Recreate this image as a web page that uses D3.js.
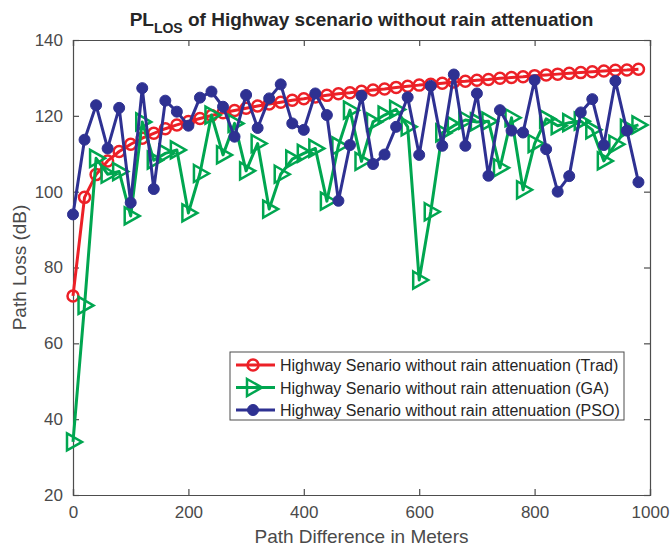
<!DOCTYPE html>
<html>
<head>
<meta charset="utf-8">
<script src="https://cdn.jsdelivr.net/npm/d3@7"></script>
<style>
  body { margin: 0; background: #fff; }
  svg { font-family: 'Liberation Sans', Arial, sans-serif; }
  .axis-title { fill: #4a4a4a; font-size: 19px; }
  .legend-text { fill: #262626; font-size: 16px; }
</style>
</head>
<body>
<svg id="chart"></svg>
<script>
// path difference in meters
const distances = [0, 20, 40, 60, 80, 100, 120, 140, 160, 180, 200, 220, 240, 260, 280, 300, 320, 340, 360, 380,
  400, 420, 440, 460, 480, 500, 520, 540, 560, 580, 600, 620, 640, 660, 680, 700, 720, 740, 760, 780,
  800, 820, 840, 860, 880, 900, 920, 940, 960, 980];

// path loss (dB) for each method
const tradLoss = [72.5, 98.5, 104.5, 108.1, 110.6, 112.5, 114.1, 115.4, 116.6, 117.6, 118.5, 119.3, 120.1, 120.8, 121.4,
  122.0, 122.6, 123.1, 123.6, 124.1, 124.5, 125.0, 125.4, 125.8, 126.1, 126.5, 126.8, 127.1, 127.5, 127.8,
  128.1, 128.3, 128.6, 128.9, 129.1, 129.4, 129.6, 129.9, 130.1, 130.3, 130.6, 130.8, 131.0, 131.2, 131.4,
  131.6, 131.8, 132.0, 132.1, 132.3];
const gaLoss = [34, 70, 108.8, 104.6, 105.3, 93.6, 118.4, 108.3, 110.1, 111.0, 94.4, 104.8, 120.2, 109.7, 118.0,
  105.5, 112.7, 95.4, 104.6, 108.6, 110.1, 111.4, 97.5, 112.1, 121.5, 108.0, 118.4, 120.2, 121.7, 117.1,
  76.7, 94.7, 115.5, 117.4, 118.9, 118.4, 118.6, 106.3, 119.5, 100.5, 112.7, 119.2, 117.4, 118.2, 118.6,
  116.3, 108.1, 112.5, 116.7, 117.6];
const psoLoss = [94.0, 113.7, 122.8, 111.4, 122.1, 97.1, 127.3, 100.7, 124.0, 121.1, 117.4, 124.8, 126.4, 122.4, 114.5,
  125.5, 116.8, 124.6, 128.3, 118.0, 116.3, 125.9, 120.2, 97.6, 112.3, 125.3, 107.3, 109.8, 117.1, 124.9,
  109.7, 127.9, 112.1, 130.9, 112.1, 125.9, 104.2, 121.5, 116.1, 115.6, 129.4, 111.2, 100.0, 104.1, 120.9,
  124.4, 112.3, 129.2, 116.1, 102.5];

const seriesNames = ['Highway Senario without rain attenuation (Trad)',
  'Highway Senario without rain attenuation (GA)',
  'Highway Senario without rain attenuation (PSO)'];

const xTicks = [0, 200, 400, 600, 800, 1000];
const yTicks = [20, 40, 60, 80, 100, 120, 140];

class LossChart {

  constructor(_config) {
    this.config = {
      parentElement: _config.parentElement,
      containerWidth: 670,
      containerHeight: 546,
      margin: {top: 40, right: 20, bottom: 51, left: 73}
    }
    this.series = [
      {name: seriesNames[0], values: tradLoss, color: '#ec2027', marker: 'circle'},
      {name: seriesNames[1], values: gaLoss, color: '#00a650', marker: 'triangle'},
      {name: seriesNames[2], values: psoLoss, color: '#2e3192', marker: 'dot'}
    ];
    this.initVis();
  }

  initVis() {
    let vis = this;

    vis.svg = d3.select(vis.config.parentElement)
        .attr('width', vis.config.containerWidth)
        .attr('height', vis.config.containerHeight);

    vis.chart = vis.svg.append('g')
        .attr('transform', `translate(${vis.config.margin.left},${vis.config.margin.top})`);

    vis.width = vis.config.containerWidth - vis.config.margin.left - vis.config.margin.right;
    vis.height = vis.config.containerHeight - vis.config.margin.top - vis.config.margin.bottom;

    vis.xScale = d3.scaleLinear().domain([0, 1000]).range([0, vis.width]);
    vis.yScale = d3.scaleLinear().domain([20, 140]).range([vis.height, 0]);

    // matlab style: ticks point inward, mirrored on top/right
    vis.xAxis = d3.axisBottom(vis.xScale).tickValues(xTicks).tickFormat(d3.format('d')).tickSize(-6).tickPadding(11);
    vis.yAxis = d3.axisLeft(vis.yScale).tickValues(yTicks).tickSize(-6).tickPadding(10);
    vis.xAxisTop = d3.axisTop(vis.xScale).tickValues(xTicks).tickSize(-6).tickFormat('');
    vis.yAxisRight = d3.axisRight(vis.yScale).tickValues(yTicks).tickSize(-6).tickFormat('');

    vis.renderVis();
  }

  renderVis() {
    let vis = this;

    const axisColor = '#4d4d4d';
    const styleAxis = g => {
      g.select('.domain').attr('stroke', axisColor).attr('stroke-width', 1.2);
      g.selectAll('.tick line').attr('stroke', axisColor).attr('stroke-width', 1.2);
    };

    vis.chart.append('g').attr('transform', `translate(0,${vis.height})`).call(vis.xAxis).call(styleAxis)
        .selectAll('text').style('font-size', '17px').attr('fill', '#4a4a4a');
    vis.chart.append('g').call(vis.yAxis).call(styleAxis)
        .selectAll('text').style('font-size', '17px').attr('fill', '#4a4a4a');
    vis.chart.append('g').call(vis.xAxisTop).call(styleAxis);
    vis.chart.append('g').attr('transform', `translate(${vis.width},0)`).call(vis.yAxisRight).call(styleAxis);

    // lines + markers
    const line = d3.line()
        .x((d, i) => vis.xScale(distances[i]))
        .y(d => vis.yScale(d));

    vis.series.forEach(s => {
      const g = vis.chart.append('g');
      g.append('path')
          .attr('d', line(s.values))
          .attr('fill', 'none')
          .attr('stroke', s.color)
          .attr('stroke-width', 3)
          .attr('stroke-linejoin', 'round');
      g.selectAll('.mk')
          .data(s.values)
          .join(enter => vis.drawMarker(enter, s))
          .attr('transform', (d, i) => `translate(${vis.xScale(distances[i])},${vis.yScale(d)})`);
    });

    // title
    const title = vis.svg.append('text')
        .attr('x', vis.config.margin.left + vis.width / 2)
        .attr('y', 26)
        .attr('text-anchor', 'middle')
        .style('font-size', '19px')
        .style('font-weight', 'bold')
        .attr('fill', '#262626');
    title.append('tspan').text('PL');
    title.append('tspan').text('LOS').attr('dy', 7).style('font-size', '14px');
    title.append('tspan').text(' of Highway scenario without rain attenuation').attr('dy', -7);

    // axis titles
    vis.svg.append('text')
        .attr('class', 'axis-title')
        .attr('x', vis.config.margin.left + vis.width / 2)
        .attr('y', 543)
        .attr('text-anchor', 'middle')
        .text('Path Difference in Meters');
    vis.svg.append('text')
        .attr('class', 'axis-title')
        .attr('text-anchor', 'middle')
        .attr('transform', `translate(26,${vis.config.margin.top + vis.height / 2}) rotate(-90)`)
        .text('Path Loss (dB)');

    // legend
    const legend = vis.svg.append('g').attr('transform', 'translate(230,352)');
    legend.append('rect')
        .attr('width', 394)
        .attr('height', 68)
        .attr('fill', '#fff')
        .attr('stroke', '#4d4d4d')
        .attr('stroke-width', 1);
    vis.series.forEach((s, i) => {
      const row = legend.append('g').attr('transform', `translate(0,${13 + i * 22.5})`);
      row.append('line')
          .attr('x1', 6).attr('x2', 45)
          .attr('stroke', s.color).attr('stroke-width', 3);
      vis.drawMarker(row.append('g').attr('transform', 'translate(23,0)').selectAll('.mk').data([0]).enter(), s);
      row.append('text')
          .attr('class', 'legend-text')
          .attr('x', 50)
          .attr('y', 6)
          .text(s.name);
    });
  }

  drawMarker(enter, s) {
    if (s.marker === 'circle') {
      return enter.append('circle')
          .attr('class', 'mk')
          .attr('r', 5.5)
          .attr('fill', 'none')
          .attr('stroke', s.color)
          .attr('stroke-width', 2.5);
    } else if (s.marker === 'triangle') {
      return enter.append('path')
          .attr('class', 'mk')
          .attr('d', 'M-6,-8.5L9,0L-6,8.5Z')
          .attr('fill', 'none')
          .attr('stroke', s.color)
          .attr('stroke-width', 2.5)
          .attr('stroke-linejoin', 'miter');
    }
    return enter.append('circle')
        .attr('class', 'mk')
        .attr('r', 5.5)
        .attr('fill', s.color)
        .attr('stroke', s.color)
        .attr('stroke-width', 1);
  }
}

new LossChart({parentElement: '#chart'});
</script>
</body>
</html>
